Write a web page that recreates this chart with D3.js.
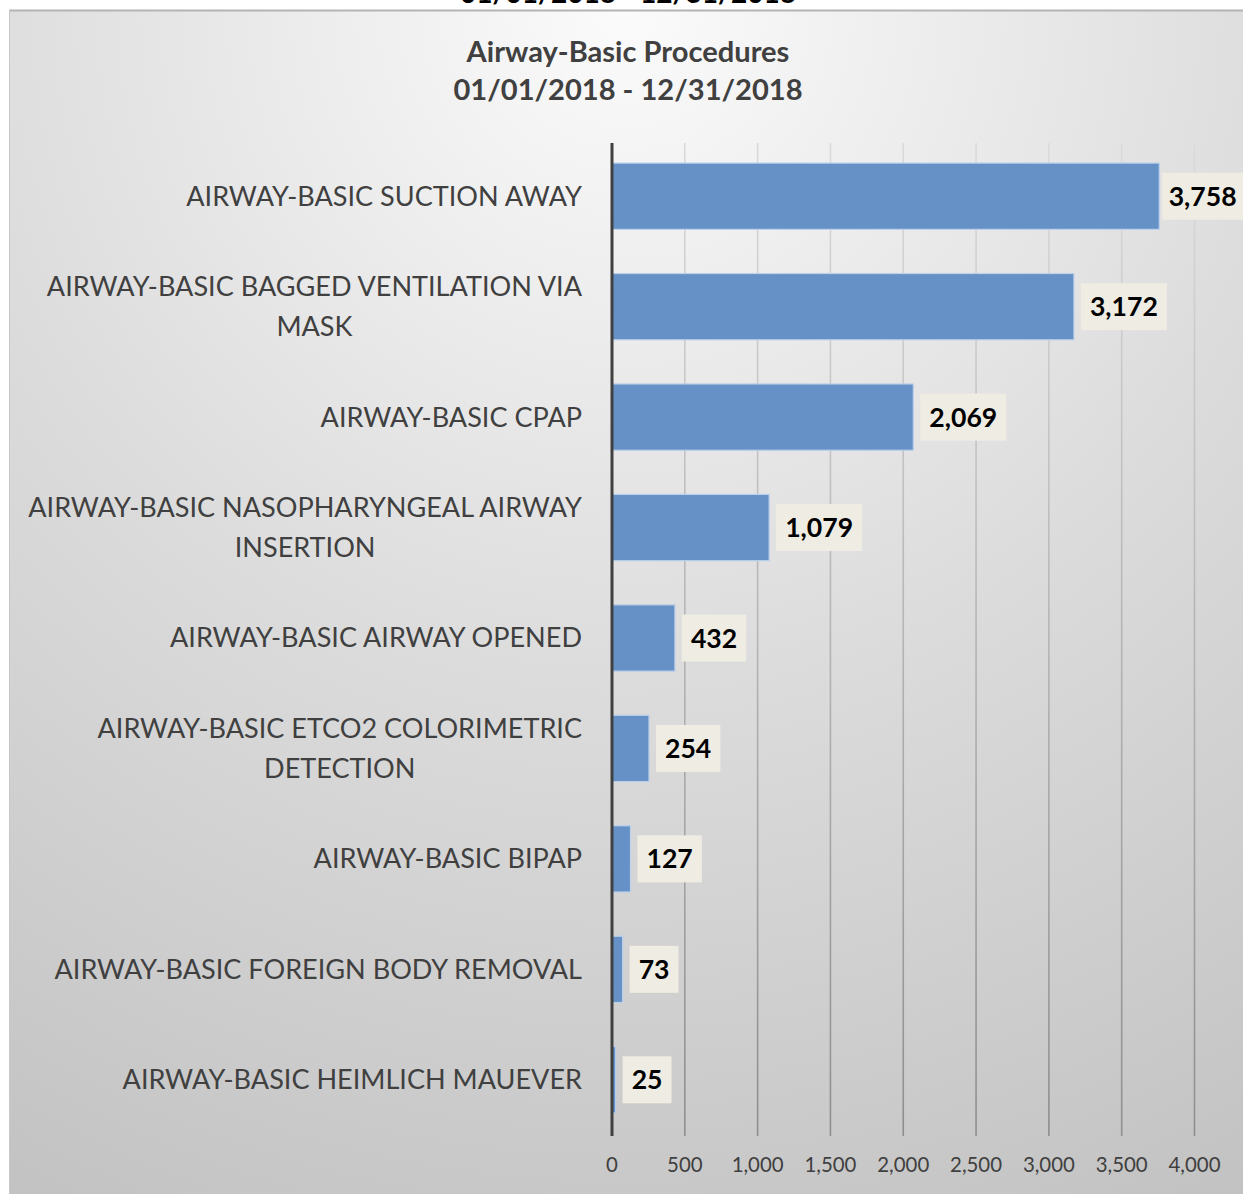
<!DOCTYPE html>
<html><head><meta charset="utf-8">
<script src="https://cdn.jsdelivr.net/npm/d3@7"></script>
<style>html,body{margin:0;padding:0;background:#fff;}svg{display:block;}</style>
</head><body>
<svg id="chart" width="1243" height="1194"></svg>
<script>
const categories = [
  ["AIRWAY-BASIC SUCTION AWAY"],
  ["AIRWAY-BASIC BAGGED VENTILATION VIA", "MASK"],
  ["AIRWAY-BASIC CPAP"],
  ["AIRWAY-BASIC NASOPHARYNGEAL AIRWAY", "INSERTION"],
  ["AIRWAY-BASIC AIRWAY OPENED"],
  ["AIRWAY-BASIC ETCO2 COLORIMETRIC", "DETECTION"],
  ["AIRWAY-BASIC BIPAP"],
  ["AIRWAY-BASIC FOREIGN BODY REMOVAL"],
  ["AIRWAY-BASIC HEIMLICH MAUEVER"]
];
const values = [3758, 3172, 2069, 1079, 432, 254, 127, 73, 25];
const xTicks = [0, 500, 1000, 1500, 2000, 2500, 3000, 3500, 4000];
const titleLines = ["Airway-Basic Procedures", "01/01/2018 - 12/31/2018"];

const svg = d3.select("#chart");
const W = 1243, H = 1194;
const FONT = "Lato, 'Open Sans', sans-serif";
const defs = svg.append("defs");

const bg = defs.append("radialGradient").attr("id","bg")
  .attr("gradientUnits","userSpaceOnUse").attr("cx",626).attr("cy",10).attr("r",1340);
bg.append("stop").attr("offset","0").attr("stop-color","#fbfbfb");
bg.append("stop").attr("offset","0.5").attr("stop-color","#dcdcdc");
bg.append("stop").attr("offset","1").attr("stop-color","#c2c2c2");

const gg = defs.append("linearGradient").attr("id","grid")
  .attr("gradientUnits","userSpaceOnUse").attr("x1",0).attr("y1",143).attr("x2",0).attr("y2",1136);
gg.append("stop").attr("offset","0").attr("stop-color","#dadada");
gg.append("stop").attr("offset","1").attr("stop-color","#8e8e8e");

// cut-off text at very top (remnant of the previous page)
svg.append("text").attr("x",628).attr("y",3).attr("text-anchor","middle")
  .attr("font-family",FONT).attr("font-weight","bold").attr("font-size",28)
  .attr("fill","#000").text(titleLines[1]);

// panel
svg.append("rect").attr("x",9).attr("y",10).attr("width",W-9).attr("height",H-10)
  .attr("fill","url(#bg)");
svg.append("line").attr("x1",9).attr("x2",W).attr("y1",10.5).attr("y2",10.5)
  .attr("stroke","#b4b4b4").attr("stroke-width",2);
svg.append("line").attr("x1",9.5).attr("x2",9.5).attr("y1",10).attr("y2",H)
  .attr("stroke","#c8c8c8").attr("stroke-width",1);

function fit(textSel, target){
  textSel.attr("font-size",100);
  const w = textSel.node().getComputedTextLength();
  return 100*target/w;
}

// title
const tmp = svg.append("text").attr("font-family",FONT).attr("font-weight","bold").text(titleLines[0]);
const titleSize = fit(tmp, 323); tmp.remove();
const title = svg.append("text").attr("text-anchor","middle")
  .attr("font-family",FONT).attr("font-weight","bold").attr("fill","#404040")
  .attr("font-size",titleSize);
title.append("tspan").attr("x",628).attr("y",62).text(titleLines[0]);
title.append("tspan").attr("x",628).attr("y",100).text(titleLines[1]);

// scales
const x = d3.scaleLinear().domain([0,4000]).range([612, 1194.5]);
const y = d3.scaleBand().domain(d3.range(categories.length)).range([141, 1135]).paddingInner(0.4).paddingOuter(0.2);

// gridlines
svg.append("g").selectAll("line").data(xTicks.slice(1)).join("line")
  .attr("x1",d=>x(d)).attr("x2",d=>x(d)).attr("y1",143).attr("y2",1136)
  .attr("stroke","url(#grid)").attr("stroke-width",1.6);

// bars
svg.append("g").selectAll("rect").data(values).join("rect")
  .attr("x",x(0)).attr("y",(d,i)=>y(i)).attr("width",d=>x(d)-x(0)).attr("height",y.bandwidth())
  .attr("fill","#6591c7").attr("stroke","#bcd0ea").attr("stroke-width",1.2);

// axis line
svg.append("line").attr("x1",x(0)).attr("x2",x(0)).attr("y1",143).attr("y2",1136)
  .attr("stroke","#404040").attr("stroke-width",3);

// x tick labels
const tmp2 = svg.append("text").attr("font-family",FONT).text("4,000");
const tickSize = fit(tmp2, 52); tmp2.remove();
const fmt = d3.format(",");
svg.append("g").selectAll("text").data(xTicks).join("text")
  .attr("x",d=>x(d)).attr("y",1172).attr("text-anchor","middle")
  .attr("font-family",FONT).attr("font-size",tickSize).attr("fill","#404040")
  .text(d=>fmt(d));

// category labels
const tmp3 = svg.append("text").attr("font-family",FONT).text(categories[0][0]);
const catSize = fit(tmp3, 396); tmp3.remove();
const labelRight = 582;
categories.forEach((lines,i)=>{
  const cy = y(i) + y.bandwidth()/2;
  const g = svg.append("g");
  const lh = 40;
  const t0 = g.append("text").attr("font-family",FONT).attr("font-size",catSize).attr("fill","#404040")
    .attr("text-anchor","end").attr("x",labelRight)
    .attr("y", cy - (lines.length-1)*lh/2 + catSize*0.35).text(lines[0]);
  if(lines.length>1){
    const w = t0.node().getComputedTextLength();
    for(let k=1;k<lines.length;k++){
      g.append("text").attr("font-family",FONT).attr("font-size",catSize).attr("fill","#404040")
        .attr("text-anchor","middle").attr("x",labelRight - w/2)
        .attr("y", cy - (lines.length-1)*lh/2 + k*lh + catSize*0.35).text(lines[k]);
    }
  }
});

// value labels
const tmp4 = svg.append("text").attr("font-family",FONT).attr("font-weight","bold").text("3,758");
const valSize = fit(tmp4, 68); tmp4.remove();
values.forEach((v,i)=>{
  const cy = y(i) + y.bandwidth()/2;
  const g = svg.append("g");
  const t = g.append("text").attr("font-family",FONT).attr("font-weight","bold")
    .attr("font-size",valSize).attr("fill","#000").text(fmt(v));
  const w = t.node().getComputedTextLength();
  const pad = 9;
  let bx = x(v) + 7, bw = w + 2*pad;
  if (bx + bw > W) { bx = Math.max(x(v) + 3, W - bw); bw = W - bx; }
  const tx = bx + (bw - w)/2;
  t.attr("x", tx).attr("y", cy + valSize*0.36);
  g.insert("rect","text").attr("x", bx).attr("y", cy-23.5).attr("width", bw).attr("height",47)
    .attr("fill","#efede3");
});
</script>
</body></html>
